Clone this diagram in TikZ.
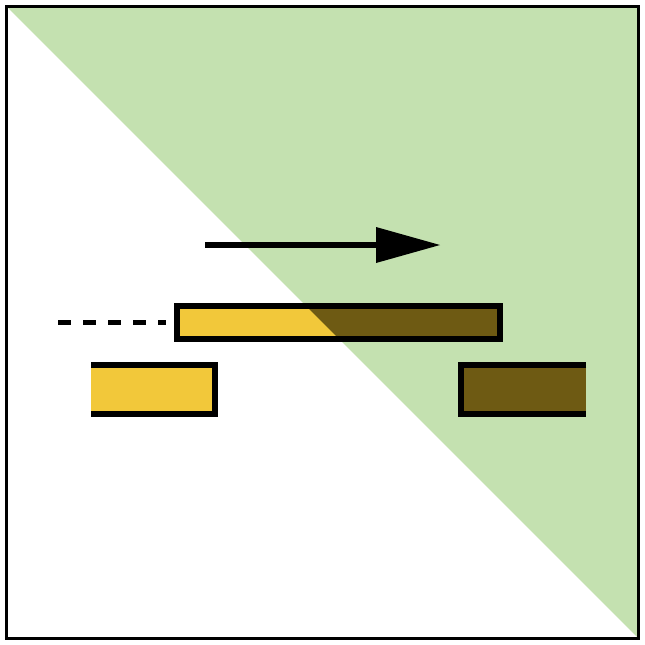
\documentclass[tikz,border=0pt]{standalone}
\begin{document}
\begin{tikzpicture}[x=1pt,y=-1pt,
  framebox/.style={draw=black,line width=3.5pt},
  barline/.style={draw=black,line width=6pt,line join=miter},
  dashline/.style={draw=black,line width=5pt,dash pattern=on 13pt off 12pt},
  arrowshaft/.style={draw=black,line width=6pt}]
\definecolor{lgreen}{HTML}{C4E1B0}
\definecolor{byellow}{HTML}{F2C83A}
\definecolor{dbrown}{HTML}{6E5A13}
\useasboundingbox (0,0) rectangle (645,645);
\fill[white] (0,0) rectangle (645,645);
% green triangle
\fill[lgreen] (8,8) -- (637,8) -- (637,637) -- cycle;
% bar fills
\fill[byellow] (177,306) rectangle (499.5,339);
\begin{scope}
  \clip (8,8) -- (637,8) -- (637,637) -- cycle;
  \fill[dbrown] (177,306) rectangle (499.5,339);
\end{scope}
\fill[byellow] (91,365) rectangle (215,414);
\fill[dbrown] (461,365) rectangle (586,414);
% bar outlines
\draw[barline] (177,306) rectangle (499.5,339);
\draw[barline] (91,365) -- (215,365) -- (215,414) -- (91,414);
\draw[barline] (586,365) -- (461,365) -- (461,414) -- (586,414);
% dashed line
\draw[dashline] (58,322) -- (166,322);
% arrow
\draw[arrowshaft] (205,245) -- (380,245);
\fill[black] (376,227) -- (440,245) -- (376,263) -- cycle;
% frame
\draw[framebox] (6.5,6.5) rectangle (638.5,638.5);
\end{tikzpicture}
\end{document}
